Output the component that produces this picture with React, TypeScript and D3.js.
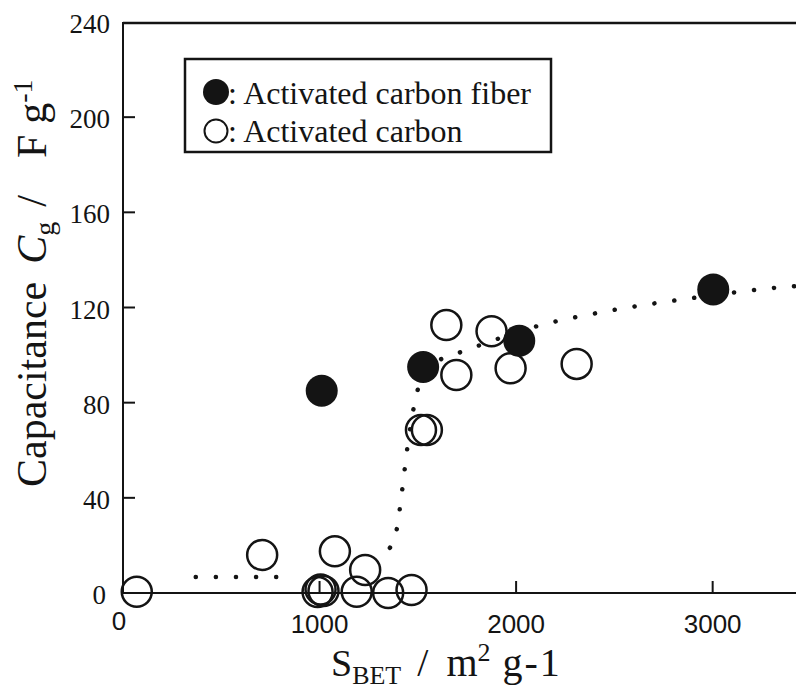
import React, { useEffect, useRef } from 'react';
import * as d3 from 'd3';

// Activated carbon fiber (filled markers)
const fiberArea = [1011, 1527, 2016, 3003];
const fiberCap = [85, 95, 106, 127.6];

// Activated carbon (open markers)
const carbonArea = [70, 708, 990, 1005, 1020, 1078, 1189, 1232, 1349, 1468, 1516, 1546, 1645, 1696, 1875, 1972, 2308];
const carbonCap = [0.5, 16, 0.4, 1.5, 0.8, 17.5, 0.5, 9.7, 0, 1.3, 68.5, 68.5, 112.6, 91.6, 110, 94.5, 96.3];

// dotted guide curve (low plateau, then the rise)
const lowArea = [370, 880];
const lowCap = [6.7, 6.7];
const riseArea = [1358, 1392, 1420, 1445, 1495, 1560, 1710, 1810, 2100, 2500, 2900, 3320, 3424];
const riseCap = [19, 26.5, 43, 60, 84, 95, 101, 104, 112, 119, 124, 128.3, 129];

const yTicks = [0, 40, 80, 120, 160, 200, 240];
const xTicks = [0, 1000, 2000, 3000];

const W = 796;
const H = 693;

const App: React.FC = () => {
    const svgRef = useRef<SVGSVGElement>(null);

    useEffect(() => {
        if (!svgRef.current) return;
        const svg = d3.select(svgRef.current);
        svg.selectAll('*').remove();

        const ink = '#141414';
        const serif = '"Liberation Serif", "Times New Roman", serif';
        const sans = '"Liberation Sans", Arial, sans-serif';

        const x = d3.scaleLinear().domain([0, 3424]).range([123, 796]);
        const y = d3.scaleLinear().domain([0, 240]).range([593, 22]);

        svg.append('rect').attr('width', W).attr('height', H).attr('fill', '#fff');

        // frame: left axis, bottom axis, top border (right side is cropped)
        svg.append('line')
            .attr('x1', x(0)).attr('x2', x(0))
            .attr('y1', y(240)).attr('y2', y(0))
            .attr('stroke', ink).attr('stroke-width', 2);
        svg.append('line')
            .attr('x1', x(0)).attr('x2', W)
            .attr('y1', y(0)).attr('y2', y(0))
            .attr('stroke', ink).attr('stroke-width', 2);
        svg.append('line')
            .attr('x1', x(0)).attr('x2', W)
            .attr('y1', y(240) + 1).attr('y2', y(240) + 1)
            .attr('stroke', ink).attr('stroke-width', 2.5);

        // y ticks + labels
        yTicks.forEach(t => {
            if (t > 0 && t < 240) {
                svg.append('line')
                    .attr('x1', x(0)).attr('x2', x(0) + 12)
                    .attr('y1', y(t)).attr('y2', y(t))
                    .attr('stroke', ink).attr('stroke-width', 2);
            }
            svg.append('text')
                .attr('x', t === 0 ? 106 : 110)
                .attr('y', y(t) + 11)
                .attr('text-anchor', 'end')
                .attr('font-family', serif)
                .attr('font-size', 27)
                .attr('fill', ink)
                .text(t);
        });

        // x ticks + labels
        xTicks.forEach(t => {
            if (t > 0) {
                svg.append('line')
                    .attr('x1', x(t)).attr('x2', x(t))
                    .attr('y1', y(0)).attr('y2', y(0) - 12)
                    .attr('stroke', ink).attr('stroke-width', 2);
            }
            svg.append('text')
                .attr('x', t === 0 ? x(t) - 4 : x(t))
                .attr('y', t === 0 ? 630 : 633)
                .attr('text-anchor', 'middle')
                .attr('font-family', sans)
                .attr('font-size', 26)
                .attr('fill', ink)
                .text(t);
        });

        // dotted guide curve
        const line = d3.line<[number, number]>()
            .x(d => x(d[0]))
            .y(d => y(d[1]))
            .curve(d3.curveMonotoneX);
        [[lowArea, lowCap], [riseArea, riseCap]].forEach(([a, c]) => {
            svg.append('path')
                .datum(d3.zip(a, c) as [number, number][])
                .attr('d', line)
                .attr('fill', 'none')
                .attr('stroke', ink)
                .attr('stroke-width', 4.5)
                .attr('stroke-linecap', 'round')
                .attr('stroke-dasharray', '0.1 20');
        });

        // open markers
        carbonArea.forEach((a, i) => {
            svg.append('circle')
                .attr('cx', x(a))
                .attr('cy', y(carbonCap[i]))
                .attr('r', 15)
                .attr('fill', 'none')
                .attr('stroke', ink)
                .attr('stroke-width', 2.5);
        });

        // filled markers
        fiberArea.forEach((a, i) => {
            svg.append('circle')
                .attr('cx', x(a))
                .attr('cy', y(fiberCap[i]))
                .attr('r', 16)
                .attr('fill', ink);
        });

        // legend
        svg.append('rect')
            .attr('x', 185).attr('y', 59)
            .attr('width', 366).attr('height', 93)
            .attr('fill', '#fff')
            .attr('stroke', ink).attr('stroke-width', 2.5);
        svg.append('circle').attr('cx', 216).attr('cy', 92).attr('r', 13).attr('fill', ink);
        svg.append('circle').attr('cx', 216).attr('cy', 131).attr('r', 11.5)
            .attr('fill', 'none').attr('stroke', ink).attr('stroke-width', 2);
        [[': Activated carbon fiber', 104], [': Activated carbon', 142]].forEach(([s, by]) => {
            svg.append('text')
                .attr('x', 228).attr('y', by as number)
                .attr('font-family', serif).attr('font-size', 32)
                .attr('fill', ink)
                .text(s as string);
        });

        // y axis title
        const yt = svg.append('text')
            .attr('transform', 'translate(46,487) rotate(-90)')
            .attr('font-family', serif)
            .attr('font-size', 42)
            .attr('fill', ink);
        yt.append('tspan').text('Capacitance');
        yt.append('tspan').attr('dx', 18).attr('font-style', 'italic').text('C');
        yt.append('tspan').attr('font-size', 28).attr('dy', 8).text('g');
        yt.append('tspan').attr('dy', -8).attr('dx', 15).text('/');
        yt.append('tspan').attr('dx', 37).text('F');
        yt.append('tspan').attr('dx', 11).text('g');
        yt.append('tspan').attr('font-size', 28).attr('dy', -14).text('-1');

        // x axis title
        const xt = svg.append('text')
            .attr('x', 331).attr('y', 676)
            .attr('font-family', serif)
            .attr('font-size', 38)
            .attr('fill', ink);
        xt.append('tspan').text('S');
        xt.append('tspan').attr('font-size', 26).attr('dy', 8).text('BET');
        xt.append('tspan').attr('dy', -8).attr('dx', 16).attr('font-size', 40).text('/');
        xt.append('tspan').attr('dx', 18).attr('font-size', 40).text('m');
        xt.append('tspan').attr('font-size', 26).attr('dy', -15).text('2');
        xt.append('tspan').attr('dy', 15).attr('dx', 12).attr('font-size', 40)
            .attr('letter-spacing', 2).text('g-1');
    }, []);

    return (
        <svg
            ref={svgRef}
            width={W}
            height={H}
            style={{ position: 'absolute', left: 0, top: 0, display: 'block' }}
        />
    );
};

export default App;
